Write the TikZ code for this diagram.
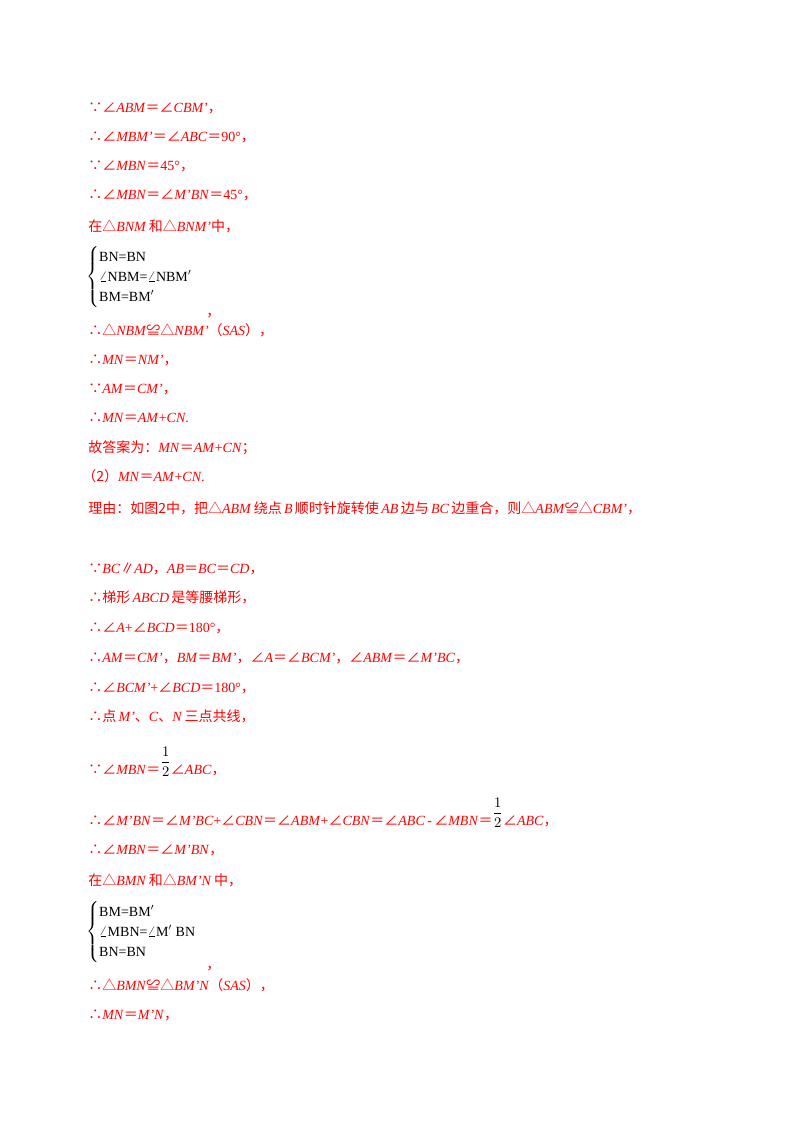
\documentclass[tikz,border=0pt]{standalone}
\usepackage{amsmath}
\usepackage{fontspec}
\setmainfont{Liberation Serif}
\newfontfamily\cjk{Noto Sans CJK SC}
\newcommand{\I}[1]{\textit{#1}}
\newcommand{\C}[1]{{\cjk #1}}
\newcommand{\half}{\textcolor{black}{$\dfrac{1}{2}$}}
\begin{document}
\begin{tikzpicture}[x=0.75pt,y=-0.75pt,
  ln/.style={anchor=base west,inner sep=0pt,text=red,font=\fontsize{10.5}{12}\selectfont},
  blk/.style={anchor=west,inner sep=0pt,text=black,font=\fontsize{10.5}{12}\selectfont}]
\useasboundingbox (0,0) rectangle (800,1132);
\node[ln] (l1) at (88,112) {\C{∵∠}\I{ABM}\C{＝∠}\I{CBM'}\C{，}};
\node[ln] (l2) at (88,141) {\C{∴∠}\I{MBM'}\C{＝∠}\I{ABC}\C{＝}90°\C{，}};
\node[ln] (l3) at (88,170) {\C{∵∠}\I{MBN}\C{＝}45°\C{，}};
\node[ln] (l4) at (88,199) {\C{∴∠}\I{MBN}\C{＝∠}\I{M'BN}\C{＝}45°\C{，}};
\node[ln] (l5) at (88,231) {\C{在△}\I{BNM}\,\C{和△}\I{BNM'}\C{中，}};
\node[blk] (b1) at (86,277) {$\left\{\renewcommand{\arraystretch}{1.25}\begin{array}{@{}l}\mbox{BN=BN}\\ \angle\mbox{NBM=}\angle\mbox{NBM}'\\ \mbox{BM=BM}'\end{array}\right.$};
\node[ln] (c1) at (206,316) {\C{，}};
\node[ln] (l6) at (88,335) {\C{∴△}\I{NBM}\C{≌△}\I{NBM'}\C{（}\I{SAS}\C{），}};
\node[ln] (l7) at (88,364) {\C{∴}\I{MN}\C{＝}\I{NM'}\C{，}};
\node[ln] (l8) at (88,393) {\C{∵}\I{AM}\C{＝}\I{CM'}\C{，}};
\node[ln] (l9) at (88,422) {\C{∴}\I{MN}\C{＝}\I{AM}+\I{CN}.};
\node[ln] (l10) at (88,452) {\C{故答案为：}\I{MN}\C{＝}\I{AM}+\I{CN}\C{；}};
\node[ln] (l11) at (82,481) {\C{（2）}\I{MN}\C{＝}\I{AM}+\I{CN}.};
\node[ln] (l12) at (88,513) {\C{理由：如图2中，把△}\I{ABM}\,\C{绕点}\,\I{B}\,\C{顺时针旋转使}\,\I{AB}\,\C{边与}\,\I{BC}\,\C{边重合，则△}\I{ABM}\C{≌△}\I{CBM'}\C{，}};
\node[ln] (l13) at (88,573) {\C{∵}\I{BC}\C{∥}\I{AD}\C{，}\I{AB}\C{＝}\I{BC}\C{＝}\I{CD}\C{，}};
\node[ln] (l14) at (88,602) {\C{∴梯形}\,\I{ABCD}\,\C{是等腰梯形，}};
\node[ln] (l15) at (88,632) {\C{∴∠}\I{A}+\C{∠}\I{BCD}\C{＝}180°\C{，}};
\node[ln] (l16) at (88,662) {\C{∴}\I{AM}\C{＝}\I{CM'}\C{，}\I{BM}\C{＝}\I{BM'}\C{，∠}\I{A}\C{＝∠}\I{BCM'}\C{，∠}\I{ABM}\C{＝∠}\I{M'BC}\C{，}};
\node[ln] (l17) at (88,692) {\C{∴∠}\I{BCM'}+\C{∠}\I{BCD}\C{＝}180°\C{，}};
\node[ln] (l18) at (88,721) {\C{∴点}\,\I{M'}\C{、}\I{C}\C{、}\I{N}\,\C{三点共线，}};
\node[ln] (l19) at (88,774) {\C{∵∠}\I{MBN}\C{＝}\raisebox{1.2ex}{\half}\C{∠}\I{ABC}\C{，}};
\node[ln] (l20) at (88,825) {\C{∴∠}\I{M'BN}\C{＝∠}\I{M'BC}+\C{∠}\I{CBN}\C{＝∠}\I{ABM}+\C{∠}\I{CBN}\C{＝∠}\I{ABC}\,-\,\C{∠}\I{MBN}\C{＝}\raisebox{1.2ex}{\half}\C{∠}\I{ABC}\C{，}};
\node[ln] (l21) at (88,854) {\C{∴∠}\I{MBN}\C{＝∠}\I{M'BN}\C{，}};
\node[ln] (l22) at (88,885) {\C{在△}\I{BMN}\,\C{和△}\I{BM'N}\,\C{中，}};
\node[blk] (b2) at (86,932) {$\left\{\renewcommand{\arraystretch}{1.25}\begin{array}{@{}l}\mbox{BM=BM}'\\ \angle\mbox{MBN=}\angle\mbox{M}'\mbox{ BN}\\ \mbox{BN=BN}\end{array}\right.$};
\node[ln] (c2) at (206,969) {\C{，}};
\node[ln] (l23) at (88,990) {\C{∴△}\I{BMN}\C{≌△}\I{BM'N}\C{（}\I{SAS}\C{），}};
\node[ln] (l24) at (88,1019) {\C{∴}\I{MN}\C{＝}\I{M'N}\C{，}};
\end{tikzpicture}
\end{document}
